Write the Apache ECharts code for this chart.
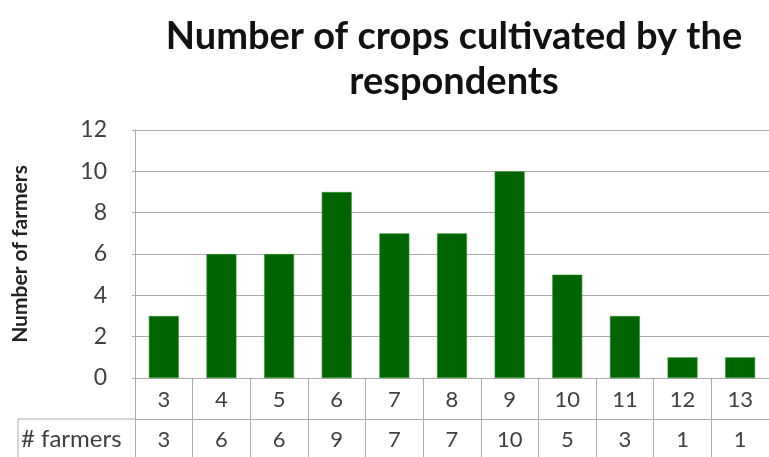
<!DOCTYPE html>
<html>
<head>
<meta charset="utf-8">
<script src="https://cdn.jsdelivr.net/npm/echarts@6/dist/echarts.min.js"></script>
<style>
  html, body { margin: 0; padding: 0; background: #fff; }
  #chart { width: 769px; height: 457px; }
</style>
</head>
<body>
<div id="chart"></div>
<script>
// Number of crops grown per farm, and how many farmers grow that many
const cropCounts = ['3', '4', '5', '6', '7', '8', '9', '10', '11', '12', '13'];
const farmers = [3, 6, 6, 9, 7, 7, 10, 5, 3, 1, 1];
const yTicks = { min: 0, max: 12, step: 2 };
const rowLabel = '# farmers';

const FONT = 'Lato, "Open Sans", sans-serif';
const GRID_COLOR = '#ababab';
const TEXT_COLOR = '#404040';

const chart = echarts.init(document.getElementById('chart'), null, { renderer: 'canvas' });

const gridLeft = 135, gridBottom = 79, rowGap = 41;

chart.setOption({
  animation: false,
  title: {
    text: 'Number of crops cultivated by the\nrespondents',
    left: 449,
    textAlign: 'center',
    top: 9,
    textStyle: {
      fontFamily: FONT,
      fontWeight: 'bold',
      fontSize: 38,
      lineHeight: 45,
      color: '#111'
    }
  },
  grid: { left: gridLeft, right: 0, top: 130, bottom: gridBottom },
  xAxis: [
    {
      type: 'category',
      data: cropCounts,
      boundaryGap: true,
      axisLine: { show: true, lineStyle: { color: GRID_COLOR, width: 1 } },
      axisTick: { show: true, length: gridBottom, lineStyle: { color: GRID_COLOR } },
      axisLabel: { fontFamily: FONT, fontSize: 22, color: TEXT_COLOR, margin: 11 }
    },
    {
      type: 'category',
      position: 'bottom',
      offset: rowGap,
      data: farmers.map(String),
      boundaryGap: true,
      axisLine: { show: true, lineStyle: { color: GRID_COLOR, width: 1 } },
      axisTick: { show: false },
      axisLabel: { fontFamily: FONT, fontSize: 22, color: TEXT_COLOR, margin: 10 }
    }
  ],
  yAxis: {
    type: 'value',
    min: yTicks.min,
    max: yTicks.max,
    interval: yTicks.step,
    name: 'Number of farmers',
    nameLocation: 'middle',
    nameRotate: 90,
    nameGap: 104,
    nameTextStyle: { fontFamily: FONT, fontWeight: 'bold', fontSize: 21, color: '#222' },
    axisLine: { show: true, lineStyle: { color: GRID_COLOR } },
    axisTick: { show: true, length: 3, lineStyle: { color: GRID_COLOR } },
    axisLabel: { fontFamily: FONT, fontSize: 23, color: TEXT_COLOR, margin: 28 },
    splitLine: { show: true, lineStyle: { color: GRID_COLOR, width: 1 } }
  },
  series: [{
    type: 'bar',
    xAxisIndex: 0,
    data: farmers,
    barWidth: '52%',
    itemStyle: { color: '#006400', borderColor: '#2f9a2f', borderWidth: 0.6 }
  }],
  graphic: [
    // row header cell for the data table
    {
      type: 'line',
      shape: { x1: 18, y1: 457 - gridBottom + rowGap, x2: gridLeft, y2: 457 - gridBottom + rowGap },
      style: { stroke: GRID_COLOR, lineWidth: 1 }
    },
    {
      type: 'line',
      shape: { x1: 18, y1: 457 - gridBottom + rowGap, x2: 18, y2: 457 },
      style: { stroke: GRID_COLOR, lineWidth: 1 }
    },
    {
      type: 'text',
      left: 21,
      top: 427,
      style: { text: rowLabel, font: '24px ' + FONT, fill: TEXT_COLOR }
    }
  ]
});
</script>
</body>
</html>
